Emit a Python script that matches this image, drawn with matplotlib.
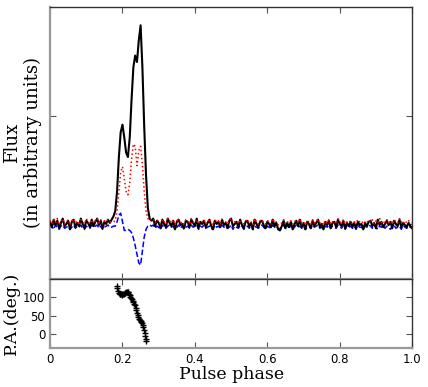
import numpy as np
import matplotlib
matplotlib.use("Agg")
import matplotlib.pyplot as plt

# pulse phase grid for the profiles (step 0.005)
phase = np.linspace(0.0, 1.0, 201)

# total intensity (black)
flux_total = [
    0.02, -0.03, 0.04, -0.01, 0.03, -0.04, 0.01, 0.05, -0.02, 0.00,
    0.03, -0.05, 0.02, 0.04, -0.03, 0.01, -0.02, 0.05, 0.00, -0.04,
    0.03, 0.01, -0.03, 0.04, -0.02, 0.02, 0.05, -0.01, 0.03, -0.04,
    0.02, 0.00, 0.04, 0.01,
    0.04, 0.07, 0.12, 0.30, 0.62, 0.85, 0.92, 0.80, 0.66, 0.62,
    0.80, 1.15, 1.45, 1.56, 1.50, 1.70, 1.84, 1.45, 0.90, 0.45,
    0.15, 0.05, 0.03,
    0.05, -0.02, 0.03, 0.01, -0.04, 0.04, 0.00, -0.03, 0.05, 0.01,
    -0.02, 0.03, -0.05, 0.02, 0.04, -0.01, 0.00, -0.04, 0.03, 0.02,
    -0.03, 0.04, 0.01, -0.02, 0.05, -0.04, 0.02, 0.00, 0.03, -0.03,
    0.01, 0.04, -0.02, -0.05, 0.03, 0.00, 0.02, -0.03, 0.04, -0.01,
    0.01, -0.04, 0.03, 0.05, -0.02, 0.00, 0.02, -0.03, 0.04, -0.01,
    -0.04, 0.02, 0.03, -0.02, 0.01, -0.05, 0.04, 0.00, -0.03, 0.02,
    0.03, -0.01, -0.04, 0.02, 0.00, -0.03, 0.04, -0.02, 0.01, -0.05,
    -0.06, -0.02, 0.03, -0.04, 0.01, -0.03, 0.02, -0.05, 0.00, 0.03,
    -0.02, 0.04, -0.03, 0.01, -0.05, 0.02, 0.00, -0.04, 0.03, -0.02,
    0.01, 0.04, -0.03, 0.00, -0.05, 0.02, -0.01, 0.03, -0.04, 0.01,
    0.02, -0.03, 0.04, 0.00, -0.02, 0.03, -0.04, 0.01, -0.02, 0.02,
    -0.03, 0.01, -0.04, 0.02, -0.01, 0.00, -0.05, 0.01, -0.02, 0.02,
    0.03, -0.02, 0.01, -0.04, 0.04, -0.01, 0.02, -0.03, 0.00, 0.03,
    -0.01, 0.02, -0.04, 0.03, 0.00, -0.02, 0.04, -0.03, 0.01, -0.01,
    -0.03, 0.01, -0.02, -0.04,
]

# linear polarisation (red, dotted)
flux_linear = [
    0.03, 0.00, 0.04, 0.01, 0.05, -0.01, 0.03, 0.05, 0.00, 0.02,
    0.04, -0.01, 0.03, 0.05, 0.01, 0.03, -0.01, 0.04, 0.02, 0.00,
    0.05, 0.02, 0.00, 0.04, 0.01, 0.03, 0.05, 0.01, 0.04, 0.00,
    0.03, 0.02, 0.04, 0.02,
    0.02, 0.02, 0.03, 0.12, 0.30, 0.48, 0.53, 0.42, 0.30, 0.27,
    0.38, 0.60, 0.74, 0.72, 0.54, 0.68, 0.72, 0.55, 0.30, 0.12,
    0.05, 0.03, 0.04,
    0.05, 0.01, 0.04, 0.02, 0.00, 0.04, 0.02, 0.00, 0.05, 0.03,
    0.01, 0.04, -0.01, 0.03, 0.05, 0.01, 0.02, 0.00, 0.04, 0.03,
    0.00, 0.05, 0.02, 0.01, 0.04, 0.00, 0.03, 0.02, 0.04, 0.00,
    0.02, 0.05, 0.01, -0.01, 0.04, 0.02, 0.03, 0.00, 0.05, 0.01,
    0.02, 0.00, 0.04, 0.05, 0.01, 0.02, 0.03, 0.00, 0.04, 0.01,
    0.00, 0.03, 0.04, 0.01, 0.02, -0.01, 0.05, 0.02, 0.00, 0.03,
    0.04, 0.01, 0.00, 0.03, 0.02, 0.00, 0.05, 0.01, 0.02, -0.01,
    0.00, 0.01, 0.04, 0.00, 0.02, 0.01, 0.03, 0.00, 0.02, 0.04,
    0.01, 0.05, 0.00, 0.02, -0.01, 0.03, 0.02, 0.00, 0.04, 0.01,
    0.02, 0.05, 0.00, 0.02, -0.01, 0.03, 0.01, 0.04, 0.00, 0.02,
    0.03, 0.00, 0.05, 0.02, 0.01, 0.04, 0.00, 0.02, 0.01, 0.03,
    0.00, 0.02, 0.01, 0.04, 0.02, 0.03, 0.00, 0.02, 0.01, 0.04,
    0.02, 0.04, 0.00, 0.03, 0.01, 0.05, 0.02, 0.00, 0.03, 0.04,
    0.01, 0.03, 0.00, 0.04, 0.02, 0.01, 0.05, 0.02, 0.00, 0.03,
    0.01, 0.03, 0.02, 0.01,
]

# circular polarisation (blue, dashed)
flux_circular = [
    -0.04, -0.02, -0.05, -0.01, -0.03, -0.05, -0.02, -0.01, -0.04, -0.03,
    -0.02, -0.05, -0.03, -0.01, -0.04, -0.02, -0.03, -0.01, -0.04, -0.05,
    -0.02, -0.03, -0.04, -0.01, -0.03, -0.02, -0.01, -0.04, -0.02, -0.05,
    -0.03, -0.02, -0.01, -0.03,
    -0.03, -0.02, -0.02, 0.02, 0.08, 0.10, 0.02, -0.06, -0.06, -0.05,
    -0.06, -0.08, -0.13, -0.20, -0.28, -0.36, -0.38, -0.25, -0.12, -0.05,
    -0.02, -0.01, -0.02,
    -0.01, -0.04, -0.02, -0.03, -0.05, -0.01, -0.03, -0.04, -0.02, -0.01,
    -0.03, -0.02, -0.05, -0.03, -0.01, -0.04, -0.02, -0.05, -0.03, -0.02,
    -0.04, -0.01, -0.03, -0.02, -0.01, -0.05, -0.02, -0.03, -0.01, -0.04,
    -0.03, -0.02, -0.04, -0.05, -0.01, -0.03, -0.02, -0.04, -0.01, -0.03,
    -0.02, -0.04, -0.03, -0.01, -0.05, -0.02, -0.03, -0.04, -0.01, -0.02,
    -0.05, -0.03, -0.02, -0.04, -0.01, -0.05, -0.02, -0.03, -0.04, -0.02,
    -0.01, -0.03, -0.05, -0.02, -0.03, -0.04, -0.01, -0.03, -0.02, -0.05,
    -0.04, -0.03, -0.01, -0.04, -0.02, -0.03, -0.02, -0.05, -0.03, -0.01,
    -0.03, -0.02, -0.04, -0.02, -0.05, -0.03, -0.02, -0.04, -0.01, -0.03,
    -0.02, -0.01, -0.04, -0.03, -0.05, -0.02, -0.03, -0.01, -0.04, -0.02,
    -0.03, -0.04, -0.01, -0.02, -0.04, -0.01, -0.05, -0.02, -0.03, -0.02,
    -0.04, -0.02, -0.05, -0.01, -0.03, -0.03, -0.05, -0.02, -0.03, -0.01,
    -0.02, -0.04, -0.01, -0.03, -0.05, -0.02, -0.03, -0.01, -0.04, -0.02,
    -0.03, -0.05, -0.02, -0.01, -0.04, -0.03, -0.02, -0.05, -0.01, -0.03,
    -0.04, -0.02, -0.03, -0.04,
]

# position angle swing
pa_phase = [
    0.184, 0.186, 0.188, 0.190, 0.192, 0.194, 0.196, 0.198, 0.200, 0.202,
    0.204, 0.206, 0.208, 0.210, 0.212, 0.214, 0.216, 0.218, 0.220, 0.222,
    0.224, 0.226, 0.228, 0.230, 0.232, 0.234, 0.236, 0.238, 0.240, 0.242,
    0.244, 0.246, 0.248, 0.250, 0.252, 0.254, 0.256, 0.258, 0.260, 0.262,
    0.263, 0.264, 0.265,
]
pa_deg = [
    131, 125, 118, 113, 110, 109, 108, 108, 107, 108,
    110, 111, 113, 114, 115, 115, 114, 110, 106, 102,
    99, 95, 90, 86, 82, 78, 72, 65, 58, 52,
    46, 42, 39, 36, 33, 29, 24, 18, 10, 2,
    -6, -13, -20,
]

xticks = [0, 0.2, 0.4, 0.6, 0.8, 1.0]
xticklabels = ["0", "0.2", "0.4", "0.6", "0.8", "1.0"]

fig = plt.figure(figsize=(4.28, 3.87), dpi=100)
ax1 = fig.add_axes([0.117, 0.279, 0.846, 0.703])
ax2 = fig.add_axes([0.117, 0.101, 0.846, 0.178])


def style_axes(ax):
    ax.tick_params(direction="in", top=True, right=True, length=4,
                   width=0.8, color="#555555", labelsize=8.5)
    for side in ["left", "bottom"]:
        ax.spines[side].set_color("#999999")
        ax.spines[side].set_linewidth(1.6)
    for side in ["top", "right"]:
        ax.spines[side].set_color("#333333")
        ax.spines[side].set_linewidth(1.0)


ax1.plot(phase, flux_total, color="black", lw=1.5, zorder=3)
ax1.plot(phase, flux_linear, color="red", lw=1.1, ls=":", zorder=4)
ax1.plot(phase, flux_circular, color="blue", lw=1.1, ls="--", zorder=2)
ax1.set_xlim(0, 1)
ax1.set_ylim(-0.51, 2.01)
ax1.set_xticks(xticks)
ax1.set_xticklabels([])
ax1.set_yticks([0, 1])
ax1.set_yticklabels([])
ax1.set_ylabel("Flux\n(in arbitrary units)", family="DejaVu Serif",
               fontsize=13, linespacing=1.2, labelpad=2)
style_axes(ax1)

ax2.plot(pa_phase, pa_deg, ls="none", marker="+", ms=4, mew=1.0,
         color="black")
ax2.set_xlim(0, 1)
ax2.set_ylim(-38, 150)
ax2.set_xticks(xticks)
ax2.set_xticklabels(xticklabels)
ax2.set_yticks([0, 50, 100])
ax2.set_xlabel("Pulse phase", family="DejaVu Serif", fontsize=12.5,
               labelpad=0)
ax2.set_ylabel("P.A.(deg.)", family="DejaVu Serif", fontsize=12.5,
               labelpad=2)
style_axes(ax2)

fig.savefig("out.png", dpi=100)
